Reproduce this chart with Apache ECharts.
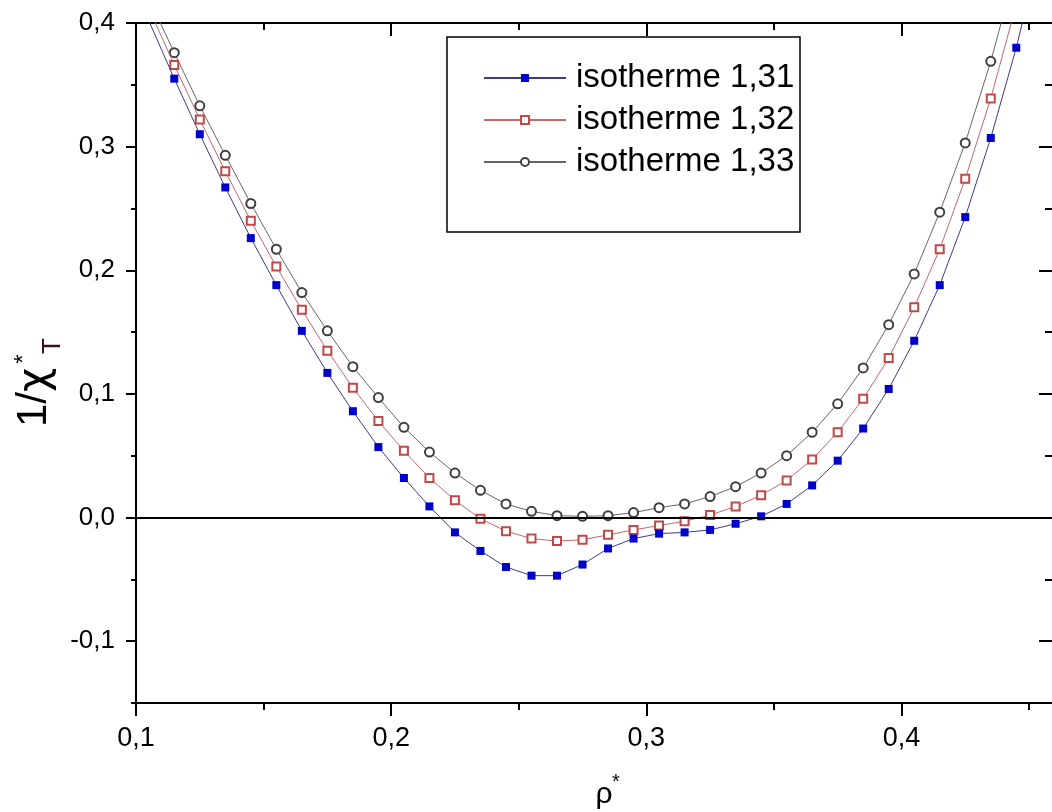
<!DOCTYPE html>
<html>
<head>
<meta charset="utf-8">
<script src="https://cdn.jsdelivr.net/npm/echarts@6/dist/echarts.min.js"></script>
<style>
html,body{margin:0;padding:0;background:#fff;}
#chart{width:1052px;height:812px;}
</style>
</head>
<body>
<div id="chart"></div>
<script>
// ---- data ----
const rho = [0.105,0.115,0.125,0.135,0.145,0.155,0.165,0.175,0.185,0.195,0.205,0.215,0.225,0.235,0.245,0.255,0.265,0.275,0.285,0.295,0.305,0.315,0.325,0.335,0.345,0.355,0.365,0.375,0.385,0.395,0.405,0.415,0.425,0.435,0.445,0.455];
const iso131 = [0.402,0.355,0.310,0.267,0.226,0.188,0.151,0.117,0.086,0.057,0.032,0.009,-0.012,-0.027,-0.040,-0.047,-0.047,-0.038,-0.025,-0.017,-0.013,-0.012,-0.010,-0.005,0.001,0.011,0.026,0.046,0.072,0.104,0.143,0.188,0.243,0.307,0.380,0.465];
const iso132 = [0.412,0.366,0.322,0.280,0.240,0.203,0.168,0.135,0.105,0.078,0.054,0.032,0.014,-0.001,-0.011,-0.017,-0.019,-0.018,-0.014,-0.010,-0.0065,-0.003,0.002,0.009,0.018,0.030,0.047,0.069,0.096,0.129,0.170,0.217,0.274,0.339,0.415,0.500];
const iso133 = [0.420,0.376,0.333,0.293,0.254,0.217,0.182,0.151,0.122,0.097,0.073,0.053,0.036,0.022,0.011,0.005,0.0015,0.001,0.0015,0.004,0.008,0.011,0.017,0.025,0.036,0.050,0.069,0.092,0.121,0.156,0.197,0.247,0.303,0.369,0.445,0.530];
const seriesNames = ['isotherme 1,31','isotherme 1,32','isotherme 1,33'];
const xMajor = [0.1,0.2,0.3,0.4];
const xMinor = [0.15,0.25,0.35,0.45];
const yMajor = [-0.1,0.0,0.1,0.2,0.3,0.4];
const yMinor = [-0.15,-0.05,0.05,0.15,0.25,0.35];
const xMin = 0.1, xMax = 0.459, yMin = -0.15, yMax = 0.4;

const FONT = '"Liberation Sans", Arial, sans-serif';
const fmt = v => v.toFixed(1).replace('.', ',');

function xAx(gridIndex, pos, ticks, len, inside, labels) {
  return {
    type:'value', gridIndex, position:pos, min:xMin, max:xMax,
    axisLine:{show:true, onZero:false, lineStyle:{color:'#000', width:2}},
    axisTick:{show:true, customValues:ticks, length:len, inside, lineStyle:{color:'#000', width:2}},
    axisLabel:labels ? {show:true, customValues:ticks, formatter:fmt, fontSize:27, margin:22, color:'#000', fontFamily:FONT} : {show:false},
    splitLine:{show:false}
  };
}
function yAx(gridIndex, pos, ticks, len, inside, labels) {
  return {
    type:'value', gridIndex, position:pos, min:yMin, max:yMax,
    axisLine:{show:pos === 'left', onZero:false, lineStyle:{color:'#000', width:2}},
    axisTick:{show:true, customValues:ticks, length:len, inside, lineStyle:{color:'#000', width:2}},
    axisLabel:labels ? {show:true, customValues:ticks, formatter:fmt, fontSize:26, margin:21, color:'#000', fontFamily:FONT} : {show:false},
    splitLine:{show:false}
  };
}
const gridBox = {left:136, top:23, right:-4, bottom:109, containLabel:false};

const pairs = arr => rho.map((r,i) => [r, arr[i]]);

const chart = echarts.init(document.getElementById('chart'), null, {renderer:'canvas'});
chart.setOption({
  animation:false,
  backgroundColor:'#fff',
  grid:[Object.assign({}, gridBox), Object.assign({}, gridBox)],
  xAxis:[
    xAx(0,'bottom',xMajor,13,false,true),
    xAx(0,'top',xMajor,13,true,false),
    xAx(1,'bottom',xMinor,7,false,false),
    xAx(1,'top',xMinor,7,true,false)
  ],
  yAxis:[
    yAx(0,'left',yMajor,10,false,true),
    yAx(0,'right',yMajor,13,true,false),
    yAx(1,'left',yMinor,5,false,false),
    yAx(1,'right',yMinor,7,true,false)
  ],
  legend:{
    left:483, top:57, orient:'vertical', padding:0,
    itemWidth:82, itemHeight:10, itemGap:0,
    textStyle:{fontSize:33, lineHeight:42, fontFamily:FONT, color:'#000', padding:[0,0,0,5]},
    data:seriesNames
  },
  graphic:[
    {type:'rect', z:0, shape:{x:447, y:37, width:353, height:195}, style:{fill:'#fff', stroke:'#000', lineWidth:1.5}},
    {type:'group', x:34, y:427, rotation:Math.PI/2, children:[
      {type:'text', x:0, y:0, style:{text:'1/', fontSize:42, fontFamily:FONT, fill:'#000', align:'left', verticalAlign:'middle'}},
      {type:'text', x:35, y:2, style:{text:'χ', fontSize:42, fontFamily:'DejaVu Sans', fill:'#000', align:'left', verticalAlign:'middle'}},
      {type:'text', x:68, y:-10, style:{text:'*', fontSize:24, fontFamily:FONT, fill:'#000', align:'center', verticalAlign:'middle'}},
      {type:'text', x:81, y:19, style:{text:'T', fontSize:26, fontFamily:FONT, fill:'#3a1414', align:'center', verticalAlign:'middle'}}
    ]},
    {type:'text', x:604, y:795, style:{text:'ρ', fontSize:30, fontFamily:FONT, fill:'#000', align:'center', verticalAlign:'middle'}},
    {type:'text', x:616, y:782, style:{text:'*', fontSize:20, fontFamily:FONT, fill:'#000', align:'center', verticalAlign:'middle'}}
  ],
  series:[
    {
      name:seriesNames[0], type:'line', xAxisIndex:0, yAxisIndex:0, data:pairs(iso131),
      symbol:'rect', symbolSize:8, z:4,
      itemStyle:{color:'#0000cc', borderWidth:0},
      lineStyle:{color:'#3c3c8c', width:1},
      markLine:{silent:true, symbol:'none', label:{show:false}, animation:false,
        lineStyle:{color:'#000', width:2, type:'solid'}, data:[{yAxis:0}]}
    },
    {
      name:seriesNames[1], type:'line', xAxisIndex:0, yAxisIndex:0, data:pairs(iso132),
      symbol:'emptyRect', symbolSize:8, z:3,
      itemStyle:{color:'#c04848', borderWidth:1},
      lineStyle:{color:'#c06a6a', width:1}
    },
    {
      name:seriesNames[2], type:'line', xAxisIndex:0, yAxisIndex:0, data:pairs(iso133),
      symbol:'emptyCircle', symbolSize:9, z:2,
      itemStyle:{color:'#404040', borderWidth:1},
      lineStyle:{color:'#666', width:1}
    }
  ]
});
</script>
</body>
</html>
